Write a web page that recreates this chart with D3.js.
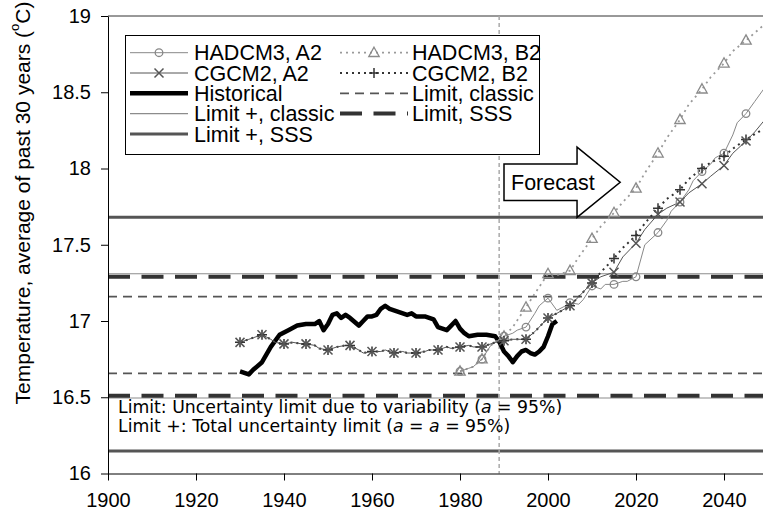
<!DOCTYPE html>
<html><head><meta charset="utf-8">
<script src="https://cdn.jsdelivr.net/npm/d3@7"></script>
<style>
body{margin:0;background:#fff}
svg{display:block;font-family:"Liberation Sans",Arial,sans-serif}
</style>
</head><body>
<svg id="chart" width="763" height="520"></svg>
<script>
// ---- tick labels ----
const xTicks = [1900, 1920, 1940, 1960, 1980, 2000, 2020, 2040];
const yTicks = [16, 16.5, 17, 17.5, 18, 18.5, 19];

// ---- observed 30-year mean temperature ----
const historical = [
  [1930,16.67],[1932,16.65],[1933,16.68],[1935,16.73],[1937,16.83],[1939,16.91],[1941,16.94],
  [1943,16.97],[1945,16.98],[1947,16.98],[1948,17.00],[1949,16.94],[1950,16.98],[1951,17.04],
  [1952,17.05],[1953,17.02],[1954,17.04],[1955,17.02],[1957,16.97],[1958,17.00],[1959,17.03],
  [1960,17.03],[1961,17.04],[1962,17.08],[1963,17.10],[1964,17.08],[1965,17.07],[1967,17.05],
  [1968,17.04],[1969,17.05],[1970,17.03],[1972,17.03],[1973,17.02],[1974,17.01],[1975,16.96],
  [1977,16.94],[1978,16.97],[1979,17.00],[1980,16.95],[1981,16.92],[1982,16.90],[1984,16.91],
  [1986,16.91],[1988,16.90],[1989,16.86],[1990,16.80],[1991,16.77],[1992,16.73],[1993,16.77],
  [1994,16.80],[1995,16.81],[1996,16.79],[1997,16.78],[1998,16.80],[1999,16.83],[2000,16.90],
  [2001,16.98],[2002,17.00]
];

// ---- CGCM2 runs (identical until the scenarios split) ----
const cgcmShared = [
  [1930,16.86],[1932,16.88],[1933,16.89],[1935,16.91],[1937,16.88],[1938,16.86],[1940,16.85],
  [1942,16.86],[1944,16.85],[1945,16.85],[1947,16.84],[1948,16.82],[1950,16.81],[1952,16.83],
  [1954,16.84],[1955,16.84],[1957,16.81],[1958,16.79],[1960,16.80],[1962,16.80],[1963,16.81],
  [1965,16.79],[1967,16.80],[1968,16.79],[1970,16.79],[1972,16.80],[1973,16.81],[1975,16.81],
  [1977,16.83],[1978,16.82],[1980,16.83],[1982,16.84],[1983,16.83],[1985,16.83],[1987,16.85],
  [1988,16.86],[1990,16.87],[1992,16.88],[1995,16.88],[1997,16.93],[2000,17.02],[2002,17.05],
  [2005,17.10],[2007,17.16],[2010,17.25]
];
const cgcmA2 = cgcmShared.concat([
  [2012,17.29],[2015,17.32],[2017,17.42],[2020,17.51],[2022,17.60],[2025,17.70],[2027,17.74],
  [2030,17.78],[2032,17.84],[2035,17.90],[2037,17.95],[2040,18.02],[2042,18.10],[2045,18.18],
  [2047,18.24],[2049,18.31]
]);
const cgcmB2 = cgcmShared.concat([
  [2012,17.32],[2015,17.41],[2017,17.48],[2020,17.56],[2022,17.64],[2025,17.74],[2027,17.80],
  [2030,17.86],[2032,17.93],[2035,18.00],[2037,18.04],[2040,18.08],[2042,18.13],[2045,18.19],
  [2049,18.26]
]);

// ---- HADCM3 runs (identical until 1990) ----
const hadShared = [[1980,16.67],[1982,16.69],[1983,16.70],[1985,16.75],[1987,16.84],[1988,16.86],[1990,16.90]];
const hadA2 = hadShared.concat([
  [1992,16.92],[1993,16.94],[1995,16.96],[1997,17.05],[1998,17.10],[2000,17.15],[2002,17.07],
  [2004,17.10],[2005,17.12],[2007,17.11],[2008,17.14],[2010,17.23],[2012,17.21],[2013,17.24],
  [2015,17.24],[2017,17.26],[2018,17.26],[2020,17.29],[2022,17.50],[2025,17.58],[2027,17.66],
  [2028,17.72],[2030,17.78],[2032,17.86],[2033,17.92],[2035,17.98],[2037,18.03],[2038,18.07],
  [2040,18.10],[2042,18.22],[2043,18.30],[2045,18.36],[2047,18.44],[2049,18.52]
]);
const hadB2 = hadShared.concat([
  [1992,16.96],[1995,17.09],[1997,17.18],[2000,17.31],[2002,17.30],[2005,17.33],[2007,17.42],
  [2010,17.54],[2012,17.62],[2015,17.71],[2017,17.78],[2020,17.87],[2022,17.97],[2025,18.10],
  [2027,18.20],[2030,18.32],[2032,18.42],[2035,18.52],[2037,18.60],[2040,18.69],[2042,18.77],
  [2045,18.84],[2049,18.94]
]);

// ---- uncertainty limits (upper, lower) ----
const limitClassic     = [17.16, 16.657];
const limitPlusClassic = [17.31, 16.495];
const limitSSS         = [17.29, 16.51];
const limitPlusSSS     = [17.68, 16.148];

const forecastStart = 1988.9;

// ---- layout ----
const W = 763, H = 520;
const x = d3.scaleLinear().domain([1900, 2050]).range([108, 768]);
const y = d3.scaleLinear().domain([16, 19]).range([473.5, 16]);
const svg = d3.select("#chart");

svg.append("defs").append("clipPath").attr("id", "plot")
  .append("rect").attr("x", 108).attr("y", 0).attr("width", W - 108).attr("height", 480);

const plot = svg.append("g").attr("clip-path", "url(#plot)");
const line = d3.line().x(d => x(d[0])).y(d => y(d[1]));

// top border of the plot area
plot.append("line").attr("x1", 108).attr("x2", W).attr("y1", y(19)).attr("y2", y(19))
  .attr("stroke", "#333").attr("stroke-width", 1);

// limit styles
const limitStyles = [
  {vals: limitPlusSSS, stroke: "#555", width: 3, dash: null},
  {vals: limitPlusClassic, stroke: "#8c8c8c", width: 1.2, dash: null},
  {vals: limitSSS, stroke: "#333", width: 4, dash: "22,11.5"},
  {vals: limitClassic, stroke: "#555", width: 1.8, dash: "9,6"}
];
limitStyles.forEach(s => {
  s.vals.forEach(v => {
    plot.append("line").attr("x1", 108).attr("x2", W).attr("y1", y(v)).attr("y2", y(v))
      .attr("stroke", s.stroke).attr("stroke-width", s.width)
      .attr("stroke-dasharray", s.dash);
  });
});

// forecast boundary
plot.append("line").attr("x1", x(forecastStart)).attr("x2", x(forecastStart))
  .attr("y1", y(19)).attr("y2", y(16))
  .attr("stroke", "#aaa").attr("stroke-width", 1.5).attr("stroke-dasharray", "4,3");

// historical
plot.append("path").datum(historical).attr("d", line)
  .attr("fill", "none").attr("stroke", "#000").attr("stroke-width", 4.5)
  .attr("stroke-linejoin", "round");

// model series
const series = [
  {data: hadB2, stroke: "#9a9a9a", width: 1.8, dash: "2,4", marker: "triangle"},
  {data: hadA2, stroke: "#888", width: 1, dash: null, marker: "circle"},
  {data: cgcmB2, stroke: "#333", width: 2, dash: "2,4", marker: "plus"},
  {data: cgcmA2, stroke: "#555", width: 1, dash: null, marker: "cross"}
];

function drawMarker(g, type, cx, cy, color) {
  if (type === "circle") {
    g.append("circle").attr("cx", cx).attr("cy", cy).attr("r", 3.8)
      .attr("fill", "none").attr("stroke", color).attr("stroke-width", 1.3);
  } else if (type === "triangle") {
    g.append("path").attr("d", `M${cx},${cy-5.5}L${cx+5.2},${cy+3.8}L${cx-5.2},${cy+3.8}Z`)
      .attr("fill", "none").attr("stroke", color).attr("stroke-width", 1.3);
  } else if (type === "plus") {
    g.append("path").attr("d", `M${cx-5},${cy}H${cx+5}M${cx},${cy-5}V${cy+5}`)
      .attr("stroke", color).attr("stroke-width", 1.5);
  } else if (type === "cross") {
    g.append("path").attr("d", `M${cx-4.5},${cy-4.5}L${cx+4.5},${cy+4.5}M${cx+4.5},${cy-4.5}L${cx-4.5},${cy+4.5}`)
      .attr("stroke", color).attr("stroke-width", 1.5);
  }
}

series.forEach(s => {
  plot.append("path").datum(s.data).attr("d", line)
    .attr("fill", "none").attr("stroke", s.stroke).attr("stroke-width", s.width)
    .attr("stroke-dasharray", s.dash);
});
series.forEach(s => {
  const g = plot.append("g");
  s.data.filter(d => d[0] % 5 === 0).forEach(d => drawMarker(g, s.marker, x(d[0]), y(d[1]), s.stroke === "#9a9a9a" ? "#8a8a8a" : s.stroke));
});

// axes
const yAxis = svg.append("g").attr("transform", "translate(108,0)")
  .call(d3.axisLeft(y).tickValues(yTicks).tickFormat(d => String(d)).tickSize(7).tickSizeOuter(0).tickPadding(10));
const xAxis = svg.append("g").attr("transform", `translate(0,${y(16)})`)
  .call(d3.axisBottom(x).tickValues(xTicks).tickFormat(d => String(d)).tickSize(7).tickSizeOuter(0).tickPadding(12));
[yAxis, xAxis].forEach(a => {
  a.selectAll("text").attr("font-size", 20).attr("fill", "#000")
    .attr("font-family", "'Liberation Sans', Arial, sans-serif");
  a.selectAll("line,path").attr("stroke", "#000");
});

// y-axis title
const yt = svg.append("text").attr("transform", "translate(22,203) rotate(-90)")
  .attr("text-anchor", "middle").attr("dominant-baseline", "central").attr("font-size", 21);
yt.append("tspan").text("Temperature, average of past 30 years  (");
yt.append("tspan").attr("font-size", 13).attr("baseline-shift", "super").text("o");
yt.append("tspan").text("C)");

// notes inside the plot
const notes = svg.append("g").attr("font-family", "'DejaVu Sans', Verdana, sans-serif").attr("font-size", 17.3);
const n1 = notes.append("text").attr("x", 118).attr("y", 412.5);
n1.append("tspan").text("Limit: Uncertainty limit due to variability (");
n1.append("tspan").attr("font-style", "italic").text("a");
n1.append("tspan").text(" = 95%)");
const n2 = notes.append("text").attr("x", 118).attr("y", 432);
n2.append("tspan").text("Limit +: Total uncertainty limit (");
n2.append("tspan").attr("font-style", "italic").text("a");
n2.append("tspan").text(" = ");
n2.append("tspan").attr("font-style", "italic").text("a");
n2.append("tspan").text(" = 95%)");

// forecast arrow
const arrow = [[1990,18.03],[2006.6,18.03],[2006.6,18.14],[2016.4,17.91],[2006.6,17.68],[2006.6,17.79],[1990,17.79]];
svg.append("path").attr("d", "M" + arrow.map(p => x(p[0]) + "," + y(p[1])).join("L") + "Z")
  .attr("fill", "#fff").attr("stroke", "#000").attr("stroke-width", 1.5);
svg.append("text").attr("x", x(1991.6)).attr("y", y(17.91)).attr("dy", "0.36em")
  .attr("font-size", 21.5).text("Forecast");

// legend
const legend = svg.append("g");
legend.append("rect").attr("x", 125.5).attr("y", 35.5).attr("width", 414).attr("height", 119)
  .attr("fill", "#fff").attr("stroke", "#000").attr("stroke-width", 1);
const rowY = i => 52.7 + i * 20.3;
const legendItems = [
  {label: "HADCM3, A2", col: 0, row: 0, stroke: "#888", width: 1, dash: null, marker: "circle"},
  {label: "CGCM2, A2", col: 0, row: 1, stroke: "#555", width: 1, dash: null, marker: "cross"},
  {label: "Historical", col: 0, row: 2, stroke: "#000", width: 4.5, dash: null},
  {label: "Limit +, classic", col: 0, row: 3, stroke: "#8c8c8c", width: 1.2, dash: null},
  {label: "Limit +, SSS", col: 0, row: 4, stroke: "#555", width: 3, dash: null},
  {label: "HADCM3, B2", col: 1, row: 0, stroke: "#9a9a9a", width: 1.8, dash: "2,4", marker: "triangle"},
  {label: "CGCM2, B2", col: 1, row: 1, stroke: "#333", width: 2, dash: "2,4", marker: "plus"},
  {label: "Limit, classic", col: 1, row: 2, stroke: "#555", width: 1.8, dash: "9,6"},
  {label: "Limit, SSS", col: 1, row: 3, stroke: "#333", width: 4, dash: "22,11.5"}
];
const cols = [{x0: 130, x1: 188, tx: 194}, {x0: 340, x1: 408, tx: 412}];
legendItems.forEach(it => {
  const c = cols[it.col], yy = rowY(it.row);
  legend.append("line").attr("x1", c.x0).attr("x2", c.x1).attr("y1", yy).attr("y2", yy)
    .attr("stroke", it.stroke).attr("stroke-width", it.width).attr("stroke-dasharray", it.dash);
  if (it.marker) drawMarker(legend, it.marker, (c.x0 + c.x1) / 2, yy, it.stroke === "#9a9a9a" ? "#8a8a8a" : it.stroke);
  legend.append("text").attr("x", c.tx).attr("y", yy).attr("dy", "0.36em")
    .attr("font-size", 21.5).text(it.label);
});
</script>
</body></html>
